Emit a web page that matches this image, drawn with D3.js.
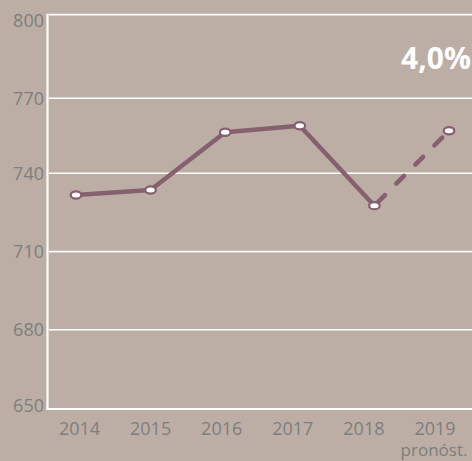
<!DOCTYPE html>
<html>
<head>
<meta charset="utf-8">
<script src="https://cdn.jsdelivr.net/npm/d3@7"></script>
<style>
  html, body { margin: 0; padding: 0; background: #bcaea5; }
  svg { display: block; font-family: "Open Sans", sans-serif; }
</style>
</head>
<body>
<svg id="chart" width="472" height="461"></svg>
<script>
const years = ["2014", "2015", "2016", "2017", "2018", "2019"];
const values = [731.7, 733.6, 756.4, 759.0, 727.6, 757.0];
const forecastStart = 4; // index where the forecast (dashed) begins
const yTicks = [650, 680, 710, 740, 770, 800];
const subLabel = "pronóst.";
const growthLabel = "4,0%";

const W = 472, H = 461;
const bg = "#bcaea5", lineColor = "#85606f", textColor = "#7e7e7e";

const svg = d3.select("#chart");
svg.append("rect").attr("width", W).attr("height", H).attr("fill", bg);

// piecewise linear scale matching the original gridline placement
const y = d3.scaleLinear().domain(yTicks).range([409, 329.8, 251.6, 173.3, 98.3, 14.6]);
const x = d3.scalePoint().domain(years).range([76, 449]);
const xLab = d3.scalePoint().domain(years).range([79, 434.5]);

// gridlines
svg.append("g").selectAll("line")
  .data(yTicks.filter(v => v !== 650))
  .join("line")
  .attr("x1", 49).attr("x2", W)
  .attr("y1", d => y(d)).attr("y2", d => y(d))
  .attr("stroke", "#ffffff").attr("stroke-width", 1.6);

// axes lines
svg.append("line").attr("x1", 47.5).attr("x2", 47.5)
  .attr("y1", y(800) - 0.8).attr("y2", y(650) + 1)
  .attr("stroke", "#fff").attr("stroke-width", 2.2);
svg.append("line").attr("x1", 46.5).attr("x2", W)
  .attr("y1", y(650)).attr("y2", y(650))
  .attr("stroke", "#fff").attr("stroke-width", 2);

// y axis labels
const yAxis = d3.axisLeft(y).tickValues(yTicks).tickSize(0).tickPadding(0).tickFormat(d3.format("d"));
const gy = svg.append("g").attr("transform", "translate(44,0)").call(yAxis);
gy.select(".domain").remove();
gy.selectAll(".tick").attr("transform", d => {
  const c = Math.max(20.4, Math.min(405.3, y(d)));
  return `translate(0,${c})`;
});
gy.selectAll("text")
  .attr("fill", textColor).attr("font-size", 18)
  .attr("font-family", "'Open Sans', sans-serif")
  .attr("dy", "0.35em").attr("x", 0);

// x axis labels
const xAxis = d3.axisBottom(xLab).tickSize(0).tickPadding(0);
const gx = svg.append("g").attr("transform", "translate(0,435)").call(xAxis);
gx.select(".domain").remove();
gx.selectAll("text")
  .attr("fill", textColor).attr("font-size", 18)
  .attr("font-family", "'Open Sans', sans-serif")
  .attr("y", 0).attr("dy", 0);

svg.append("text")
  .attr("x", xLab(years[years.length - 1]) - 0.5).attr("y", 456)
  .attr("text-anchor", "middle")
  .attr("fill", textColor).attr("font-size", 17)
  .text(subLabel);

// line
const pts = years.map((yr, i) => ({ yr, v: values[i], i }));
const lineGen = d3.line().x(d => x(d.yr)).y(d => y(d.v));

svg.append("path")
  .datum(pts.slice(0, forecastStart + 1))
  .attr("d", lineGen)
  .attr("fill", "none").attr("stroke", lineColor)
  .attr("stroke-width", 4.5).attr("stroke-linejoin", "round").attr("stroke-linecap", "round");

svg.append("path")
  .datum(pts.slice(forecastStart))
  .attr("d", lineGen)
  .attr("fill", "none").attr("stroke", lineColor)
  .attr("stroke-width", 4.5).attr("stroke-linecap", "round")
  .attr("stroke-dasharray", "11,16").attr("stroke-dashoffset", -4);

// markers
svg.append("g").selectAll("ellipse")
  .data(pts)
  .join("ellipse")
  .attr("cx", d => x(d.yr)).attr("cy", d => y(d.v))
  .attr("rx", 5.3).attr("ry", 3.6)
  .attr("fill", "#ffffff").attr("stroke", lineColor).attr("stroke-width", 2.2);

// growth label
svg.append("text")
  .attr("x", 471).attr("y", 69)
  .attr("text-anchor", "end")
  .attr("fill", "#ffffff").attr("font-size", 30).attr("font-weight", "bold")
  .text(growthLabel);
</script>
</body>
</html>
